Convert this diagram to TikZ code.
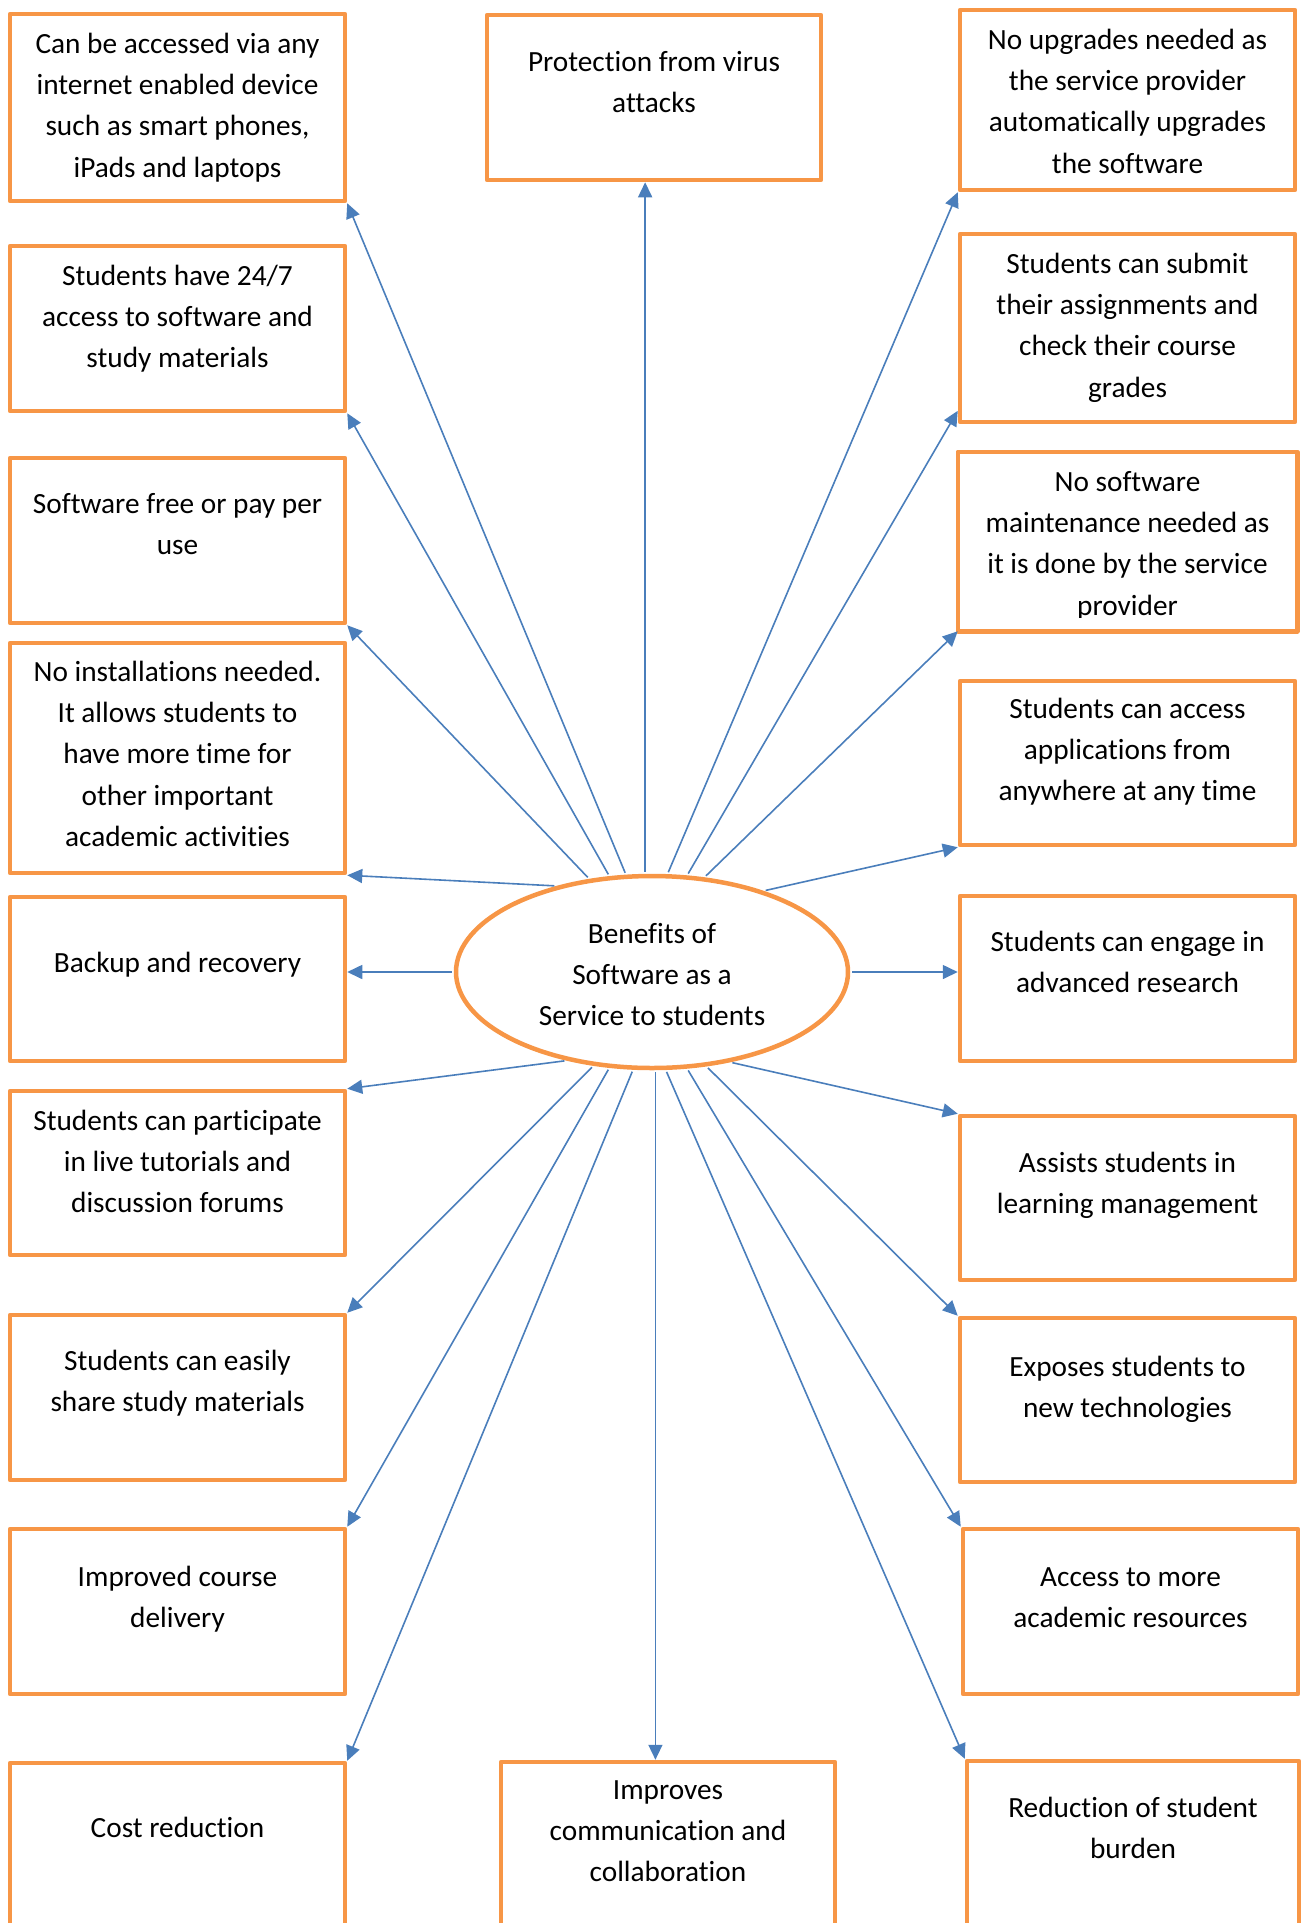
\documentclass[tikz,border=0pt]{standalone}
\usepackage{fontspec}
\setmainfont{Carlito}[Ligatures={NoCommon}]
\usetikzlibrary{arrows.meta,shapes.geometric}

\definecolor{boxorange}{HTML}{F79646}
\definecolor{linkblue}{HTML}{4A7EBB}

% width, height, first-baseline offset (all in pt), text
\newcommand{\benefittext}[4]{%
  \begin{minipage}[c][#2pt][t]{#1pt}\centering\rule{0pt}{#3pt}#4\end{minipage}}

\tikzset{
  boxline/.style={draw=boxorange, line width=4.5pt, line join=round},
  benefit/.style={boxline, fill=white, inner sep=0pt,
    font=\fontsize{29.3pt}{41.4pt}\selectfont},
  hub/.style={ellipse, draw=boxorange, line width=4.5pt, fill=white, inner sep=0pt,
    minimum width=392pt, minimum height=192pt,
    font=\fontsize{29.3pt}{41.4pt}\selectfont},
  link/.style={draw=linkblue, line width=1.6pt,
    -{Triangle[length=15pt,width=14pt]}, shorten <=2pt}
}

\begin{document}
\begin{tikzpicture}[x=1pt, y=-1pt]
\useasboundingbox (0,0) rectangle (1301,1923);
\clip (0,0) rectangle (1301,1923);

% centre
\node[hub] (hub) at (652,972)
  {\benefittext{260}{130}{36}{Benefits of\\Software as a\\Service to students}};

% left column
\node[benefit] (L1) at (177.5,107.5) {\benefittext{335}{187}{39}{Can be accessed via any\\internet enabled device\\such as smart phones,\\iPads and laptops}};
\node[benefit] (L2) at (177.5,328.5) {\benefittext{335}{165}{39}{Students have 24/7\\access to software and\\study materials}};
\node[benefit] (L3) at (177.5,540.5) {\benefittext{335}{165}{55}{Software free or pay per\\use}};
\node[benefit] (L4) at (177.5,758) {\benefittext{335}{230}{38}{No installations needed.\\It allows students to\\have more time for\\other important\\academic activities}};
\node[benefit] (L5) at (177.5,979) {\benefittext{335}{164}{75}{Backup and recovery}};
\node[benefit] (L6) at (177.5,1173) {\benefittext{335}{164}{39}{Students can participate\\in live tutorials and\\discussion forums}};
\node[benefit] (L7) at (177.5,1397.5) {\benefittext{335}{165}{55}{Students can easily\\share study materials}};
\node[benefit] (L8) at (177.5,1611.5) {\benefittext{335}{165}{57}{Improved course\\delivery}};
\node[benefit] (L9) at (177.5,1881.5) {\benefittext{335}{237}{74}{Cost reduction}};

% middle column
\node[benefit] (P) at (654,97.5) {\benefittext{334}{165}{56}{Protection from virus\\attacks}};
\node[benefit] (I) at (668,1881) {\benefittext{334}{238}{37}{Improves\\communication and\\collaboration}};

% right column
\node[benefit] (R1) at (1127.5,100) {\benefittext{335}{180}{39}{No upgrades needed as\\the service provider\\automatically upgrades\\the software}};
\node[benefit] (R2) at (1127.5,328) {\benefittext{335}{188}{39}{Students can submit\\their assignments and\\check their course\\grades}};
\begin{scope}
  \clip (950,440) rectangle (1300,617);
  \node[benefit, draw=none] (R3) at (1127.5,541.5) {\benefittext{335}{175}{37}{No software\\maintenance needed as\\it is done by the service\\provider}};
\end{scope}
\draw[boxline] (R3.south west) rectangle (R3.north east);
\node[benefit] (R4) at (1127.5,763) {\benefittext{335}{164}{37}{Students can access\\applications from\\anywhere at any time}};
\node[benefit] (R5) at (1127.5,978.5) {\benefittext{335}{165}{55}{Students can engage in\\advanced research}};
\node[benefit] (R6) at (1127.5,1198) {\benefittext{335}{164}{56}{Assists students in\\learning management}};
\node[benefit] (R7) at (1127.5,1400) {\benefittext{335}{164}{58}{Exposes students to\\new technologies}};
\node[benefit] (R8) at (1130.5,1611.5) {\benefittext{335}{165}{57}{Access to more\\academic resources}};
\node[benefit] (R9) at (1133,1880.5) {\benefittext{332}{239}{56}{Reduction of student\\burden}};

% connectors, upper half
\draw[link] (hub.138) -- (L4.south east);
\draw[link] (hub.124) -- (L3.south east);
\draw[link] (hub.114) -- (L2.south east);
\draw[link] (hub.105) -- (L1.south east);
\draw[link] (hub.94) -- (P.south -| hub.94);
\draw[link] (hub.81) -- (R1.south west);
\draw[link] (hub.70) -- (R2.206);
\draw[link] (hub.61) -- (R3.south west);
\draw[link] (hub.36) -- (R4.south west);

% connectors, sides
\draw[link] (hub.west) -- (hub.west -| L5.east);
\draw[link] (hub.east) -- (hub.east -| R5.west);

% connectors, lower half
\draw[link] (hub.226) -- (L6.north east);
\draw[link] (hub.238) -- (L7.north east);
\draw[link] (hub.246) -- (L8.north east);
\draw[link] (hub.259) -- (L9.north east);
\draw[link] (hub.272) -- (I.north -| hub.272);
\draw[link] (hub.278) -- (R9.north west);
\draw[link] (hub.290) -- (R8.north west);
\draw[link] (hub.300) -- (R7.north west);
\draw[link] (hub.311) -- (R6.north west);
\end{tikzpicture}
\end{document}
